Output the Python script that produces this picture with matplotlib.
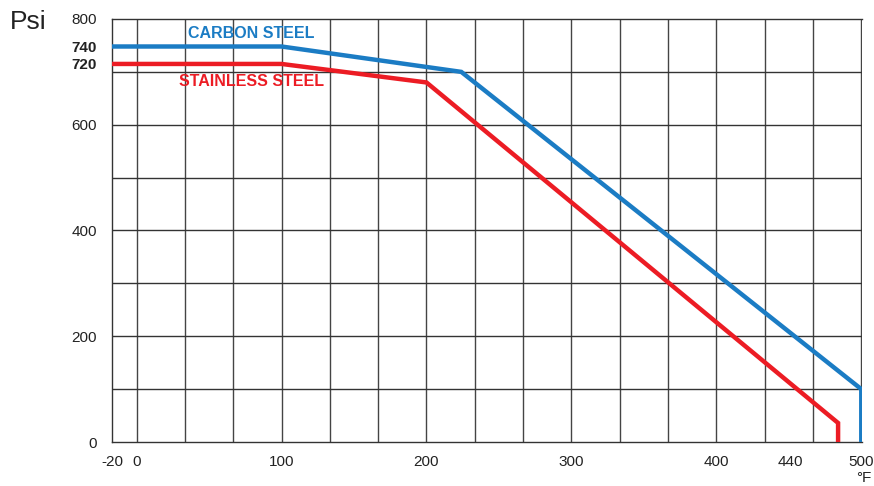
import matplotlib.pyplot as plt

plt.rcParams['font.family'] = ['Liberation Sans', 'DejaVu Sans']

# curve break points (°F, psi), read against the drawn scale
carbon_t = [-20, 100, 224, 500, 500]
carbon_p = [748, 748, 700, 100, 0]
stainless_t = [-20, 100, 200, 484, 484]
stainless_p = [715, 715, 680, 36, 0]

x_ticks = [-17, 0, 100, 200, 300, 400, 451, 500]
x_labels = ['-20', '0', '100', '200', '300', '400', '440', '500']
y_ticks = [0, 200, 400, 600, 715, 748, 800]
y_labels = ['0', '200', '400', '600', '720', '740', '800']
bold_y = ['720', '740']

blue = '#1b7cc4'
red = '#ec1c24'


def main():
    fig = plt.figure(figsize=(8.74, 4.86), dpi=100)
    ax = fig.add_axes([112 / 874, 44 / 486, 750 / 874, 423 / 486])

    # grid
    for i in range(16):
        ax.axvline(i * 100 / 3, color='#444444', lw=1, zorder=1)
    for p in range(100, 800, 100):
        ax.axhline(p, color='#333333', lw=1, zorder=1)

    ax.plot(carbon_t, carbon_p, color=blue, lw=3.2, solid_joinstyle='miter', zorder=3)
    ax.plot(stainless_t, stainless_p, color=red, lw=3.2, solid_joinstyle='miter', zorder=3)

    ax.set_xlim(-17, 500.5)
    ax.set_ylim(0, 800)
    ax.set_xticks(x_ticks)
    ax.set_xticklabels(x_labels, fontsize=11, color='#222222')
    ax.set_yticks(y_ticks)
    ax.set_yticklabels(y_labels, fontsize=11, color='#222222')
    for lbl in ax.get_yticklabels():
        if lbl.get_text() in bold_y:
            lbl.set_fontweight('bold')
    ax.tick_params(length=0)
    ax.tick_params(axis='x', pad=9)
    ax.tick_params(axis='y', pad=11)

    for s in ['left', 'bottom', 'top']:
        ax.spines[s].set_color('#333333')
        ax.spines[s].set_linewidth(1)
    ax.spines['right'].set_visible(False)

    ax.text(79, 773, 'CARBON STEEL', color=blue, fontsize=11.5, fontweight='bold',
            ha='center', va='center')
    ax.text(79, 681, 'STAINLESS STEEL', color=red, fontsize=11.5, fontweight='bold',
            ha='center', va='center')

    fig.text(10 / 874, 1 - 22 / 486, 'Psi', fontsize=19, color='#222222', va='center', ha='left')
    fig.text(856 / 874, 0.002, '°F', fontsize=11, color='#222222', va='bottom', ha='left')

    fig.savefig('out.png', dpi=100)


if __name__ == '__main__':
    main()
